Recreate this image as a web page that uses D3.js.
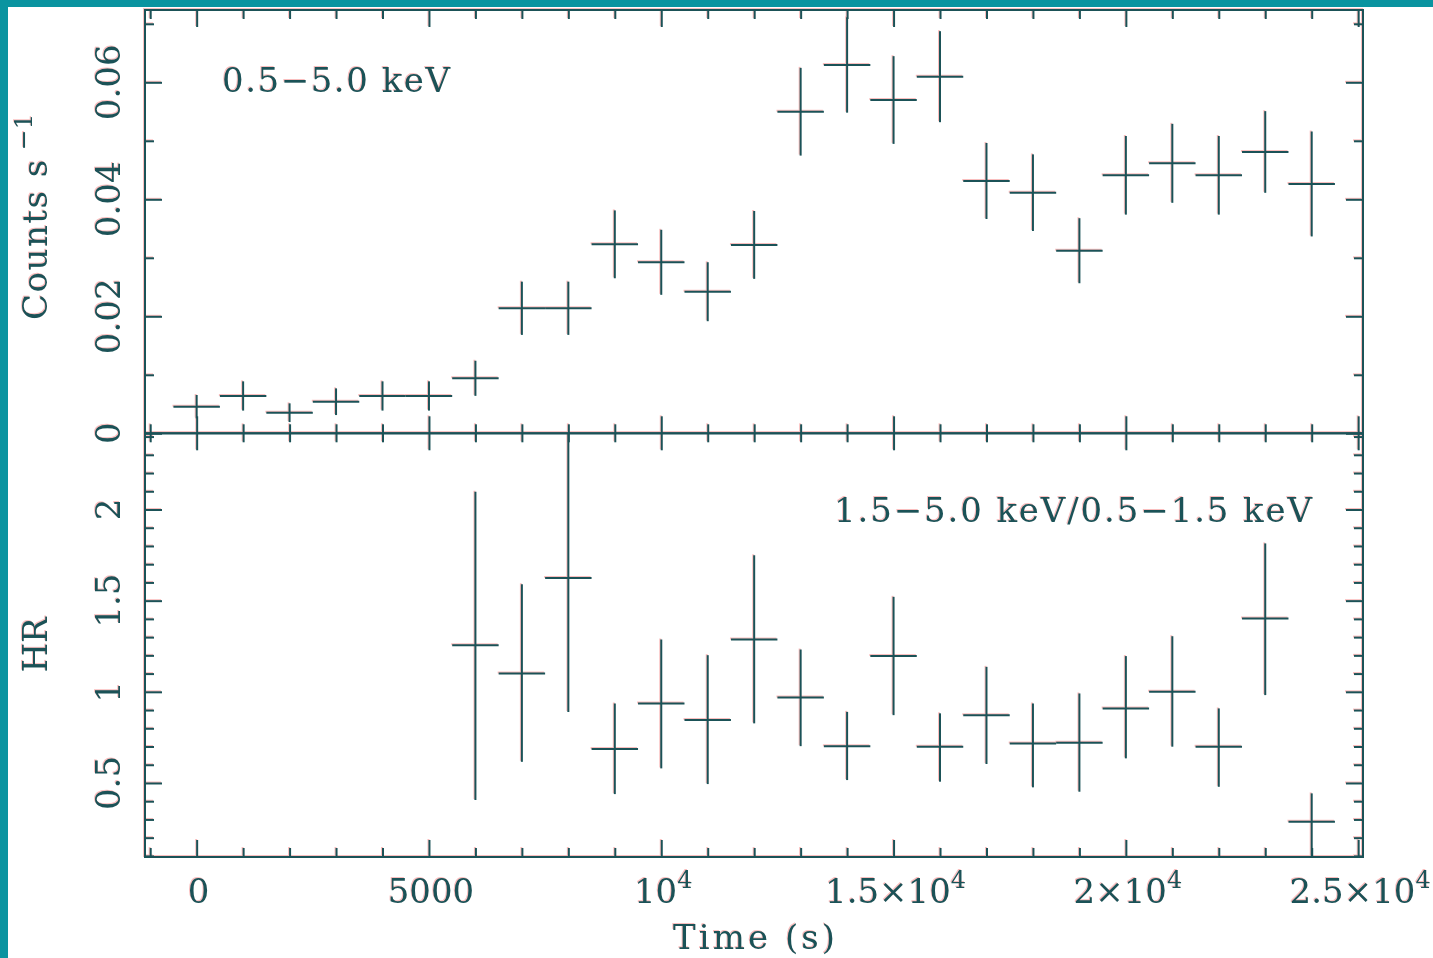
<!DOCTYPE html>
<html><head><meta charset="utf-8">
<script src="https://cdn.jsdelivr.net/npm/d3@7"></script>
<style>html,body{margin:0;padding:0;background:#fff;overflow:hidden}</style>
</head><body>
<svg id="chart" width="1433" height="958"></svg>
<script>
// ---------- data ----------
const timeBins   = [0,1000,2000,3000,4000,5000,6000,7000,8000,9000,10000,11000,12000,13000,14000,15000,16000,17000,18000,19000,20000,21000,22000,23000,24000];
const rateValues = [0.00455,0.00638,0.00352,0.0054,0.00638,0.00638,0.0094,0.02137,0.02137,0.0323,0.02923,0.0242,0.0322,0.05497,0.06296,0.05697,0.06096,0.04313,0.04113,0.03121,0.0441,0.04615,0.0441,0.04809,0.04262];
const rateErrors = [0.0020,0.0025,0.0016,0.00228,0.0025,0.0025,0.0030,0.00455,0.00455,0.0058,0.00556,0.00504,0.0058,0.0075,0.00815,0.0075,0.00778,0.0065,0.00655,0.00556,0.00672,0.00675,0.00672,0.00698,0.00897];
const binHalfWidth = 500;

const hrTimes  = [6000,7000,8000,9000,10000,11000,12000,13000,14000,15000,16000,17000,18000,19000,20000,21000,22000,23000,24000];
const hrValues = [1.256,1.101,1.625,0.686,0.936,0.845,1.287,0.969,0.702,1.196,0.699,0.872,0.717,0.720,0.909,1.000,0.699,1.402,0.287];
const hrUpper  = [2.097,1.590,2.60,0.936,1.287,1.201,1.749,1.232,0.890,1.521,0.882,1.137,0.936,0.991,1.196,1.305,0.909,1.814,0.443];
const hrLower  = [0.406,0.616,0.890,0.439,0.580,0.494,0.827,0.702,0.516,0.872,0.507,0.604,0.476,0.452,0.635,0.699,0.479,0.982,0.02];

const xMajorTicks  = [0,5000,10000,15000,20000,25000];
const xTickLabels  = [["0",""],["5000",""],["10","4"],["1.5×10","4"],["2×10","4"],["2.5×10","4"]];
const xMinorTicks  = d3.range(-1000,25001,1000).filter(v => v % 5000 !== 0);
const rateMajorTicks = [0,0.02,0.04,0.06];
const rateTickLabels = ["0","0.02","0.04","0.06"];
const rateMinorTicks = [0.01,0.03,0.05,0.07];
const hrMajorTicks = [0.5,1,1.5,2];
const hrTickLabels = ["0.5","1","1.5","2"];
const hrMinorTicks = d3.range(1,25).map(i => i/10).filter(v => Math.abs(v*2 - Math.round(v*2)) > 1e-6);

const xTitle = "Time (s)";
const rateTitle = ["Counts s", "−1"];
const hrTitle = "HR";
const rateNote = "0.5−5.0 keV";
const hrNote = "1.5−5.0 keV/0.5−1.5 keV";

// ---------- layout ----------
const L = 145, R = 1363, T = 10, M = 433.3, B = 857;
const x = d3.scaleLinear().domain([-1112, 25104]).range([L, R]);
const yRate = d3.scaleLinear().domain([0, 0.07236]).range([M, T]);
const yHR = d3.scaleLinear().domain([0.094, 2.418]).range([B, M]);
const MAJ = 17, MIN = 9;
const FONT = "DejaVu Serif";

const svg = d3.select("#chart");
svg.append("rect").attr("width",1433).attr("height",958).attr("fill","#fff");
svg.append("rect").attr("x",0).attr("y",0).attr("width",1433).attr("height",7).attr("fill","#0a94a0");
svg.append("rect").attr("x",0).attr("y",0).attr("width",8).attr("height",958).attr("fill","#0a94a0");

const defs = svg.append("defs");
defs.append("clipPath").attr("id","clipHR").append("rect")
  .attr("x",L).attr("y",M).attr("width",R-L).attr("height",B-M);

function axisLayer(g, axis, tx, ty, size){
  g.append("g").attr("transform",`translate(${tx},${ty})`)
   .call(axis.tickSize(size).tickFormat("").tickSizeOuter(0))
   .call(s => s.select(".domain").remove())
   .call(s => s.selectAll(".tick line").attr("stroke","currentColor").attr("stroke-width",2));
}

function drawLayer(color, dx, dy, op){
  const g = svg.append("g").attr("transform",`translate(${dx},${dy})`)
    .style("color",color).attr("opacity",op);
  // frames
  g.append("rect").attr("x",L).attr("y",T).attr("width",R-L).attr("height",M-T)
    .attr("fill","none").attr("stroke",color).attr("stroke-width",2);
  g.append("rect").attr("x",L).attr("y",M).attr("width",R-L).attr("height",B-M)
    .attr("fill","none").attr("stroke",color).attr("stroke-width",2);

  // x ticks: top frame, middle line (both sides), bottom frame
  [[xMajorTicks,MAJ],[xMinorTicks,MIN]].forEach(([vals,sz]) => {
    axisLayer(g, d3.axisBottom(x).tickValues(vals), 0, T, sz);
    axisLayer(g, d3.axisTop(x).tickValues(vals), 0, M, sz);
    axisLayer(g, d3.axisBottom(x).tickValues(vals), 0, M, sz);
    axisLayer(g, d3.axisTop(x).tickValues(vals), 0, B, sz);
  });
  // y ticks rate
  [[rateMajorTicks,MAJ],[rateMinorTicks,MIN]].forEach(([vals,sz]) => {
    axisLayer(g, d3.axisRight(yRate).tickValues(vals), L, 0, sz);
    axisLayer(g, d3.axisLeft(yRate).tickValues(vals), R, 0, sz);
  });
  [[hrMajorTicks,MAJ],[hrMinorTicks,MIN]].forEach(([vals,sz]) => {
    axisLayer(g, d3.axisRight(yHR).tickValues(vals), L, 0, sz);
    axisLayer(g, d3.axisLeft(yHR).tickValues(vals), R, 0, sz);
  });

  // rate error bars
  const rate = g.append("g").attr("stroke",color).attr("stroke-width",2);
  timeBins.forEach((t,i) => {
    rate.append("line").attr("x1",x(t-binHalfWidth)).attr("x2",x(t+binHalfWidth))
      .attr("y1",yRate(rateValues[i])).attr("y2",yRate(rateValues[i]));
    rate.append("line").attr("x1",x(t)).attr("x2",x(t))
      .attr("y1",yRate(rateValues[i]-rateErrors[i])).attr("y2",Math.max(T,yRate(rateValues[i]+rateErrors[i])));
  });
  // HR error bars
  const hr = g.append("g").attr("stroke",color).attr("stroke-width",2).attr("clip-path","url(#clipHR)");
  hrTimes.forEach((t,i) => {
    hr.append("line").attr("x1",x(t-binHalfWidth)).attr("x2",x(t+binHalfWidth))
      .attr("y1",yHR(hrValues[i])).attr("y2",yHR(hrValues[i]));
    hr.append("line").attr("x1",x(t)).attr("x2",x(t))
      .attr("y1",yHR(hrLower[i])).attr("y2",yHR(hrUpper[i]));
  });

  // text
  const tg = g.append("g").attr("fill",color).attr("font-family",FONT).attr("font-size",34);
  xMajorTicks.forEach((v,i) => {
    const t = tg.append("text").attr("x",x(v)+2).attr("y",903).attr("text-anchor","middle");
    t.append("tspan").text(xTickLabels[i][0]);
    if (xTickLabels[i][1]) t.append("tspan").attr("dy",-15).attr("font-size",24).text(xTickLabels[i][1]);
  });
  rateMajorTicks.forEach((v,i) => {
    tg.append("text").attr("transform",`translate(120,${yRate(v)}) rotate(-90)`)
      .attr("text-anchor","middle").text(rateTickLabels[i]);
  });
  hrMajorTicks.forEach((v,i) => {
    tg.append("text").attr("transform",`translate(120,${yHR(v)}) rotate(-90)`)
      .attr("text-anchor","middle").text(hrTickLabels[i]);
  });
  tg.append("text").attr("x",754).attr("y",949).attr("text-anchor","middle")
    .attr("textLength",162).attr("lengthAdjust","spacing").text(xTitle);
  const ct = tg.append("text").attr("transform","translate(47,320) rotate(-90)").attr("text-anchor","start");
  ct.append("tspan").attr("letter-spacing",1.5).text(rateTitle[0]);
  ct.append("tspan").attr("dy",-15).attr("dx",8).attr("font-size",25).text(rateTitle[1]);
  tg.append("text").attr("transform",`translate(47,645) rotate(-90)`).attr("text-anchor","middle").text(hrTitle);
  tg.append("text").attr("x",222).attr("y",92).attr("textLength",228).attr("lengthAdjust","spacing").text(rateNote);
  tg.append("text").attr("x",834).attr("y",522).attr("textLength",478).attr("lengthAdjust","spacing").text(hrNote);
}

drawLayer("#f7a3a3", -1, -1, 0.7);
drawLayer("#1b5257", 0, 0, 1);
</script>
</body></html>
